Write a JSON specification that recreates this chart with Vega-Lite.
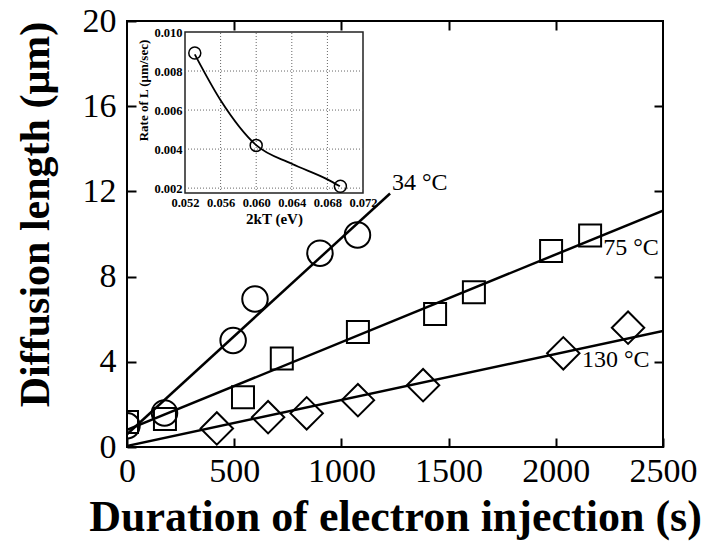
{
  "$schema": "https://vega.github.io/schema/vega-lite/v6.json",
  "width": 536,
  "height": 426,
  "autosize": {"type": "none"},
  "padding": {"left": 127, "top": 21, "right": 48, "bottom": 100},
  "background": "white",
  "config": {
    "view": {"stroke": "black", "strokeWidth": 2},
    "font": "Liberation Serif",
    "axis": {
      "labelFont": "Liberation Serif",
      "titleFont": "Liberation Serif",
      "labelColor": "black",
      "titleColor": "black",
      "tickColor": "black",
      "domain": false,
      "grid": false,
      "labelFlush": false,
      "labelOverlap": false
    }
  },
  "datasets": {
    "pts": [
      {"t": 0, "L": 1.0, "s": "34"},
      {"t": 175, "L": 1.6, "s": "34"},
      {"t": 495, "L": 5.0, "s": "34"},
      {"t": 597, "L": 6.95, "s": "34"},
      {"t": 900, "L": 9.1, "s": "34"},
      {"t": 1075, "L": 9.95, "s": "34"},
      {"t": 0, "L": 1.17, "s": "75"},
      {"t": 177, "L": 1.31, "s": "75"},
      {"t": 541, "L": 2.34, "s": "75"},
      {"t": 722, "L": 4.15, "s": "75"},
      {"t": 1077, "L": 5.4, "s": "75"},
      {"t": 1437, "L": 6.25, "s": "75"},
      {"t": 1618, "L": 7.26, "s": "75"},
      {"t": 1978, "L": 9.2, "s": "75"},
      {"t": 2160, "L": 9.93, "s": "75"},
      {"t": 419, "L": 0.87, "s": "130"},
      {"t": 658, "L": 1.4, "s": "130"},
      {"t": 838, "L": 1.58, "s": "130"},
      {"t": 1077, "L": 2.2, "s": "130"},
      {"t": 1381, "L": 2.9, "s": "130"},
      {"t": 2035, "L": 4.4, "s": "130"},
      {"t": 2337, "L": 5.6, "s": "130"}
    ],
    "fits": [
      {"t": 0, "L": 0.6, "s": "34"},
      {"t": 1227, "L": 11.9, "s": "34"},
      {"t": 0, "L": 0.8, "s": "75"},
      {"t": 2500, "L": 11.1, "s": "75"},
      {"t": 0, "L": 0.05, "s": "130"},
      {"t": 2500, "L": 5.45, "s": "130"}
    ],
    "labels": [
      {"t": 1236, "L": 12.4, "txt": "34 °C"},
      {"t": 2221, "L": 9.32, "txt": "75 °C"},
      {"t": 2122, "L": 4.07, "txt": "130 °C"}
    ],
    "inPts": [
      {"e": 0.0531, "r": 0.00892},
      {"e": 0.06, "r": 0.00419},
      {"e": 0.06946, "r": 0.0021}
    ],
    "inCurve": [
      {"e": 0.0531, "r": 0.00885},
      {"e": 0.056, "r": 0.0065},
      {"e": 0.06, "r": 0.0042},
      {"e": 0.064, "r": 0.00325},
      {"e": 0.068, "r": 0.00245},
      {"e": 0.0694, "r": 0.0021}
    ],
    "inBox": [
      {"e": 0.052, "e2": 0.072, "r": 0.00175, "r2": 0.01}
    ],
    "inGridV": [
      {"e": 0.056, "r": 0.00175, "r2": 0.01},
      {"e": 0.06, "r": 0.00175, "r2": 0.01},
      {"e": 0.064, "r": 0.00175, "r2": 0.01},
      {"e": 0.068, "r": 0.00175, "r2": 0.01}
    ],
    "inGridH": [
      {"r": 0.002, "e": 0.052, "e2": 0.072},
      {"r": 0.004, "e": 0.052, "e2": 0.072},
      {"r": 0.006, "e": 0.052, "e2": 0.072},
      {"r": 0.008, "e": 0.052, "e2": 0.072}
    ]
  },
  "layer": [
    {
      "layer": [
        {
          "data": {"name": "fits"},
          "mark": {"type": "line", "color": "black", "strokeWidth": 2.5, "clip": true},
          "encoding": {
            "x": {"field": "t", "type": "quantitative", "scale": {"domain": [0, 2500], "nice": false}, "axis": null},
            "y": {"field": "L", "type": "quantitative", "scale": {"domain": [0, 20], "nice": false}, "axis": null},
            "detail": {"field": "s"}
          }
        },
        {
          "data": {"name": "pts"},
          "mark": {"type": "point", "filled": false, "stroke": "black", "strokeWidth": 2, "clip": true, "opacity": 1},
          "encoding": {
            "x": {
              "field": "t", "type": "quantitative",
              "scale": {"domain": [0, 2500], "nice": false},
              "axis": {
                "orient": "bottom",
                "values": [0, 500, 1000, 1500, 2000, 2500],
                "format": "d",
                "labelFontSize": 34,
                "tickSize": -9,
                "tickWidth": 2,
                "labelPadding": 16,
                "title": "Duration of electron injection (s)",
                "titleFontSize": 44,
                "titleFontWeight": "bold",
                "titleBaseline": "alphabetic",
                "titleY": 83
              }
            },
            "y": {
              "field": "L", "type": "quantitative",
              "scale": {"domain": [0, 20], "nice": false},
              "axis": {
                "orient": "left",
                "values": [0, 4, 8, 12, 16, 20],
                "format": "d",
                "labelFontSize": 34,
                "tickSize": -9,
                "tickWidth": 2,
                "labelPadding": 20,
                "title": "Diffusion length (μm)",
                "titleFontSize": 42,
                "titleFontWeight": "bold",
                "titleBaseline": "alphabetic",
                "titleAngle": 270,
                "titleX": -79,
                "titleY": 193
              }
            },
            "shape": {"field": "s", "type": "nominal", "scale": {"domain": ["34", "75", "130"], "range": ["circle", "square", "M-1,0L0,-1L1,0L0,1Z"]}, "legend": null},
            "size": {"field": "s", "type": "nominal", "scale": {"type": "ordinal", "domain": ["34", "75", "130"], "range": [650, 484, 1050]}, "legend": null}
          }
        },
        {
          "data": {"name": "labels"},
          "mark": {"type": "text", "align": "left", "baseline": "middle", "fontSize": 24, "font": "Liberation Serif", "color": "black"},
          "encoding": {
            "x": {"field": "t", "type": "quantitative", "scale": {"domain": [0, 2500], "nice": false}, "axis": null},
            "y": {"field": "L", "type": "quantitative", "scale": {"domain": [0, 20], "nice": false}, "axis": null},
            "text": {"field": "txt"}
          }
        },
        {
          "data": {"name": "fits"},
          "mark": {"type": "point", "opacity": 0},
          "encoding": {
            "x": {
              "field": "t", "type": "quantitative",
              "scale": {"domain": [0, 2500], "nice": false},
              "axis": {"orient": "top", "values": [500, 1000, 1500, 2000], "labels": false, "tickSize": -9, "tickWidth": 2, "title": null}
            },
            "y": {
              "field": "L", "type": "quantitative",
              "scale": {"domain": [0, 20], "nice": false},
              "axis": {"orient": "right", "values": [4, 8, 12, 16], "labels": false, "tickSize": -9, "tickWidth": 2, "title": null}
            }
          }
        }
      ],
      "resolve": {"axis": {"x": "independent", "y": "independent"}}
    },
    {
      "layer": [
        {
          "data": {"name": "inBox"},
          "mark": {"type": "rect", "fill": "transparent", "stroke": "#222", "strokeWidth": 1.5},
          "encoding": {
            "x": {
              "field": "e", "type": "quantitative",
              "scale": {"domain": [0.052, 0.072], "range": [58, 236], "nice": false, "zero": false},
              "axis": {
                "orient": "bottom",
                "offset": -254,
                "values": [0.052, 0.056, 0.06, 0.064, 0.068, 0.072],
                "format": ".3f",
                "labelFontSize": 12.5,
                "labelFontWeight": "bold",
                "ticks": false,
                "labelPadding": 3,
                "title": "2kT (eV)",
                "titleFontSize": 15,
                "titleFontWeight": "bold",
                "titlePadding": 3
              }
            },
            "x2": {"field": "e2"},
            "y": {
              "field": "r", "type": "quantitative",
              "scale": {"domain": [0.00175, 0.01], "range": [172, 11], "nice": false, "zero": false},
              "axis": {
                "orient": "left",
                "offset": -58,
                "values": [0.002, 0.004, 0.006, 0.008, 0.01],
                "format": ".3f",
                "labelFontSize": 12.5,
                "labelFontWeight": "bold",
                "ticks": false,
                "labelPadding": 3,
                "title": "Rate of L (μm/sec)",
                "titleFontSize": 13,
                "titleFontWeight": "bold",
                "titlePadding": 3,
                "titleY": 69
              }
            },
            "y2": {"field": "r2"}
          }
        },
        {
          "data": {"name": "inGridV"},
          "mark": {"type": "rule", "color": "#666", "strokeWidth": 1, "strokeDash": [1, 2]},
          "encoding": {
            "x": {"field": "e", "type": "quantitative", "axis": null},
            "y": {"field": "r", "type": "quantitative", "axis": null},
            "y2": {"field": "r2"}
          }
        },
        {
          "data": {"name": "inGridH"},
          "mark": {"type": "rule", "color": "#666", "strokeWidth": 1, "strokeDash": [1, 2]},
          "encoding": {
            "x": {"field": "e", "type": "quantitative", "axis": null},
            "x2": {"field": "e2"},
            "y": {"field": "r", "type": "quantitative", "axis": null}
          }
        },
        {
          "data": {"name": "inCurve"},
          "mark": {"type": "line", "color": "black", "strokeWidth": 1.8, "interpolate": "monotone"},
          "encoding": {
            "x": {"field": "e", "type": "quantitative", "axis": null},
            "y": {"field": "r", "type": "quantitative", "axis": null}
          }
        },
        {
          "data": {"name": "inPts"},
          "mark": {"type": "point", "filled": false, "stroke": "black", "strokeWidth": 1.5, "size": 144, "opacity": 1},
          "encoding": {
            "x": {"field": "e", "type": "quantitative", "axis": null},
            "y": {"field": "r", "type": "quantitative", "axis": null}
          }
        }
      ],
      "resolve": {"axis": {"x": "independent", "y": "independent"}}
    }
  ],
  "resolve": {"scale": {"x": "independent", "y": "independent"}, "axis": {"x": "independent", "y": "independent"}}
}
